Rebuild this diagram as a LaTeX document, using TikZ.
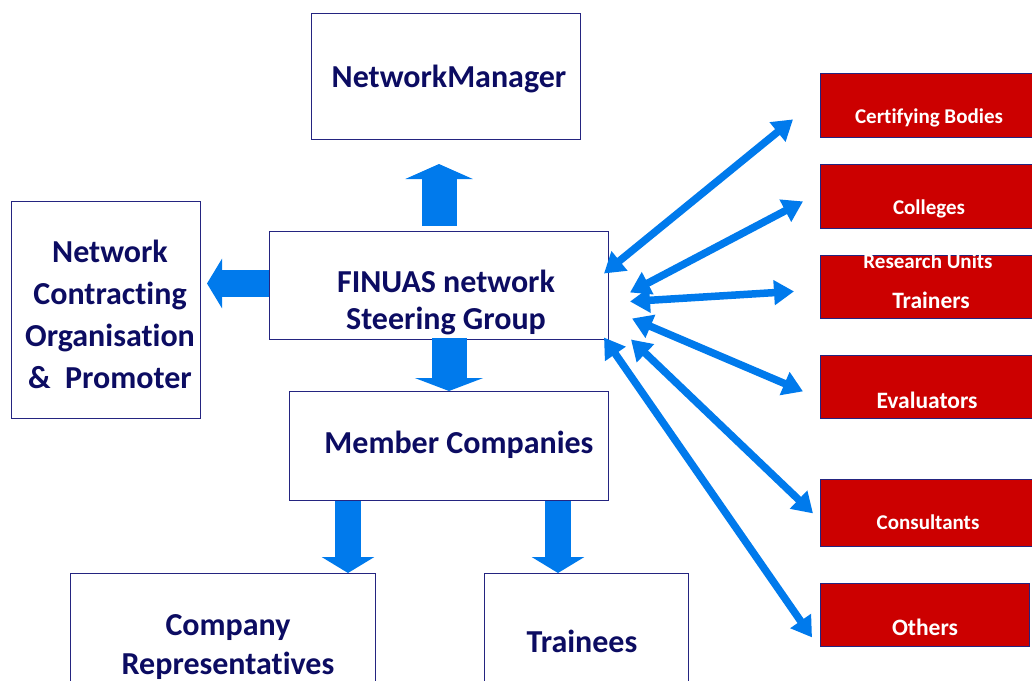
\documentclass[tikz,border=0pt]{standalone}
\usepackage{fontspec}
\setmainfont{Carlito}[Ligatures=NoCommon]
\usetikzlibrary{arrows.meta}
\definecolor{fnNavy}{RGB}{12,12,98}
\definecolor{fnEdge}{RGB}{36,36,128}
\definecolor{fnBlue}{RGB}{0,122,236}
\definecolor{fnRed}{RGB}{204,0,0}
\newcommand{\fsRedS}{\fontsize{21}{25}\selectfont\bfseries}
\newcommand{\fsRedL}{\fontsize{23.5}{28}\selectfont\bfseries}

\begin{document}
\begin{tikzpicture}[x=1pt, y=-1pt,
    box/.style n args={2}{draw=fnEdge, line width=1pt, fill=white, inner sep=0pt,
      anchor=north west, minimum width=#1, minimum height=#2},
    party/.style n args={2}{draw=fnEdge, line width=0.8pt, fill=fnRed, inner sep=0pt,
      anchor=north west, minimum width=#1, minimum height=#2},
    lbl/.style={text=fnNavy, font=\fontsize{32}{#1}\selectfont\bfseries,
      align=center, anchor=base, inner sep=0pt},
    lbl/.default=38,
    plbl/.style={text=white, font=\fsRedS, anchor=base, inner sep=0pt},
    plblL/.style={plbl, font=\fsRedL},
    fat/.style={draw=fnBlue, line width=#1},
    link/.style={draw=fnBlue, line width=7.5pt,
      {Triangle[length=20pt,width=24pt]}-{Triangle[length=20pt,width=24pt]}},
  ]
  \useasboundingbox (0,0) rectangle (1032,680);
  \clip (0,0) rectangle (1032,680);

  %% ================= network bodies =================
  \node[box={269}{126}] (mgr) at (311,13) {};
  \node[box={339}{108}] (fin) at (269,231) {};
  \node[box={189}{217}] (ntw) at (11,201) {};
  \node[box={319}{109}] (mem) at (289,391) {};
  \node[box={305}{120}] (rep) at (70,573) {};
  \node[box={204}{120}] (tee) at (484,573) {};

  % multi-line labels sit on the baseline of their last line
  \node[lbl] (mgrT) at (449,87) {NetworkManager};
  \node[lbl=37] (finT) at (446,329) {FINUAS network\\Steering Group};
  \node[lbl=42] (ntwT) at (110,388) {Network\\Contracting\\Organisation\\\&\ \ Promoter};
  \node[lbl] (memT) at (459,453) {Member Companies};
  \node[lbl=39] (repT) at (228,674) {Company\\Representatives};
  \node[lbl] (teeT) at (582,652) {Trainees};

  %% ================= outside partners =================
  \node[party={214}{64}] (cert) at (820,73) {};
  \node[party={214}{64}] (coll) at (820,164) {};
  \node[party={214}{63}] (trn) at (820,255) {};
  \node[party={214}{63}] (eva) at (820,355) {};
  \node[party={214}{67}] (cons) at (820,479) {};
  \node[party={209}{63}] (oth) at (820,583) {};

  \node[plbl] (certT) at (929,123) {Certifying Bodies};
  \node[plbl] (collT) at (929,214) {Colleges};
  \node[plbl] (resT) at (928,268) {Research Units};
  \node[plblL] (trnT) at (931,308) {Trainers};
  \node[plblL] (evaT) at (927,408) {Evaluators};
  \node[plbl] (consT) at (928,529) {Consultants};
  \node[plblL] (othT) at (925,635) {Others};

  %% ---- block arrows out of the steering group ----
  \draw[fat=35pt, -{Triangle[length=15pt,width=67pt]}]
    ([yshift=5pt]fin.north) -- ([yshift=-24pt]fin.north |- mgr.south);
  \draw[fat=27pt, -{Triangle[length=15pt,width=49pt]}]
    ([yshift=2pt]fin.west) -- ([xshift=6pt,yshift=2pt]fin.west -| ntw.east);
  \draw[fat=35pt, -{Triangle[length=13pt,width=68pt]}]
    ([yshift=2pt]mem.north |- fin.south) -- (mem.north);
  \draw[fat=26pt, -{Triangle[length=16pt,width=52pt]}]
    ([xshift=59pt]mem.south west) -- ([xshift=59pt]mem.south west |- rep.north);
  \draw[fat=26pt, -{Triangle[length=16pt,width=52pt]}]
    ([xshift=-51pt]mem.south east) -- ([xshift=-51pt]mem.south east |- tee.north);

  %% ---- two-way links to the partners ----
  \draw[link] ([shift={(-5,-12)}]fin.east) -- ([shift={(-27,14)}]cert.west);
  \draw[link] ([shift={(21,7)}]fin.east)   -- ([shift={(-17,5)}]coll.west);
  \draw[link] ([shift={(21,16)}]fin.east)  -- ([shift={(-26,4.5)}]trn.west);
  \draw[link] ([shift={(23,33)}]fin.east)  -- ([shift={(-17,4.5)}]eva.west);
  \draw[link] ([shift={(22,54)}]fin.east)  -- ([shift={(-7,0.5)}]cons.west);
  \draw[link] ([shift={(-5,52)}]fin.east)  -- ([shift={(-8,22.5)}]oth.west);

\end{tikzpicture}
\end{document}
